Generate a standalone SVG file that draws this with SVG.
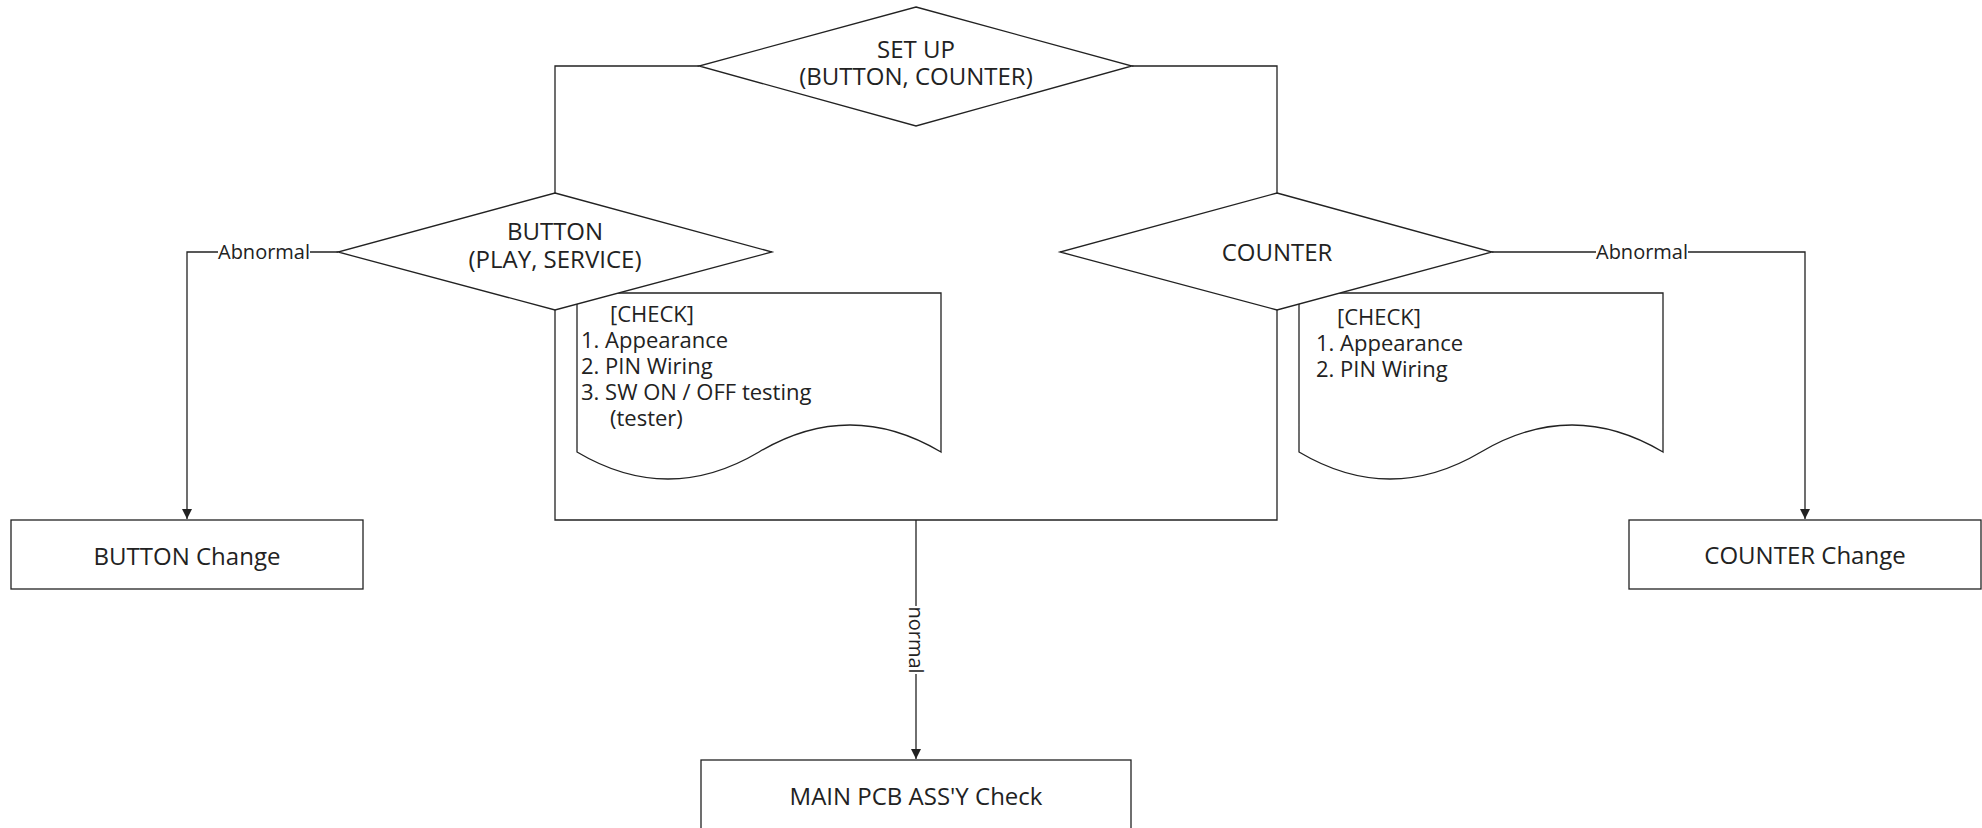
<svg xmlns="http://www.w3.org/2000/svg" width="1982" height="828" viewBox="0 0 1982 828">
<style>
.sh{fill:#fff;stroke:#222;stroke-width:1.3}
.ln{fill:none;stroke:#222;stroke-width:1.3}
.t{font-family:"Open Sans","Noto Sans",sans-serif;fill:#222;font-size:24px;text-anchor:middle}
.d{font-family:"Open Sans","Noto Sans",sans-serif;fill:#222;font-size:22px}
.l{font-family:"Open Sans","Noto Sans",sans-serif;fill:#222;font-size:20px;text-anchor:middle}
</style>
<defs>
<marker id="ah" viewBox="0 0 10 10" refX="10" refY="5" markerWidth="10" markerHeight="10" markerUnits="userSpaceOnUse" orient="auto">
<path d="M0,0 L10,5 L0,10 Z" fill="#222"/>
</marker>
</defs>
<rect width="1982" height="828" fill="#fff"/>
<g id="connectors">
<path class="ln" d="M699,66 H555 V193"/>
<path class="ln" d="M1132,66 H1277 V193"/>
<path class="ln" d="M555,310 V520 H1277 V310"/>
<path class="ln" d="M916,520 V759" marker-end="url(#ah)"/>
<path class="ln" d="M338,252 H187 V519" marker-end="url(#ah)"/>
<path class="ln" d="M1492,252 H1805 V519" marker-end="url(#ah)"/>
<rect x="218" y="240" width="92" height="24" fill="#fff"/>
<text class="l" x="264" y="259">Abnormal</text>
<rect x="1596" y="240" width="92" height="24" fill="#fff"/>
<text class="l" x="1642" y="259">Abnormal</text>
<rect x="904" y="606" width="24" height="68" fill="#fff"/>
<text class="l" transform="translate(909,640) rotate(90)" x="0" y="0">normal</text>
</g>
<g id="doc-button">
<path class="sh" d="M577,293 H941 V452 Q850,398 759,452 Q668,506 577,452 Z"/>
<text class="d" x="610" y="322">[CHECK]</text>
<text class="d" x="581" y="348">1. Appearance</text>
<text class="d" x="581" y="374">2. PIN Wiring</text>
<text class="d" x="581" y="400">3. SW ON / OFF testing</text>
<text class="d" x="610" y="426">(tester)</text>
</g>
<g id="doc-counter">
<path class="sh" d="M1299,293 H1663 V452 Q1572,398 1481,452 Q1390,506 1299,452 Z"/>
<text class="d" x="1337" y="325">[CHECK]</text>
<text class="d" x="1316" y="351">1. Appearance</text>
<text class="d" x="1316" y="377">2. PIN Wiring</text>
</g>
<g id="setup">
<path class="sh" d="M916,7 L1132,66 L916,126 L699,66 Z"/>
<text class="t" x="916" y="58">SET UP</text>
<text class="t" x="916" y="85">(BUTTON, COUNTER)</text>
</g>
<g id="button">
<path class="sh" d="M555,193 L772,252 L555,310 L338,252 Z"/>
<text class="t" x="555" y="240">BUTTON</text>
<text class="t" x="555" y="268">(PLAY, SERVICE)</text>
</g>
<g id="counter">
<path class="sh" d="M1277,193 L1492,252 L1277,310 L1060,252 Z"/>
<text class="t" x="1277" y="261">COUNTER</text>
</g>
<g id="button-change">
<rect class="sh" x="11" y="520" width="352" height="69"/>
<text class="t" x="187" y="565">BUTTON Change</text>
</g>
<g id="counter-change">
<rect class="sh" x="1629" y="520" width="352" height="69"/>
<text class="t" x="1805" y="564">COUNTER Change</text>
</g>
<g id="main-pcb">
<rect class="sh" x="701" y="760" width="430" height="69"/>
<text class="t" x="916" y="805">MAIN PCB ASS'Y Check</text>
</g>
</svg>
